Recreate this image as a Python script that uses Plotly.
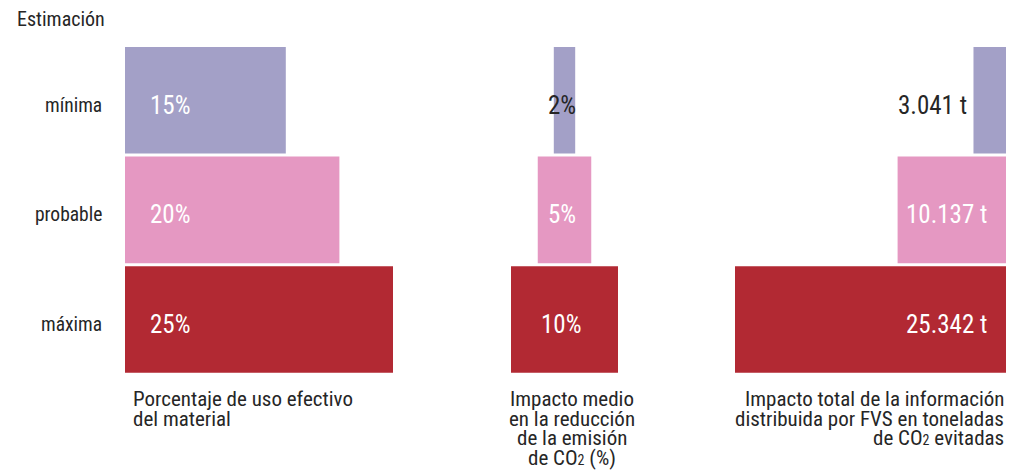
import plotly.graph_objects as go

# ---------------- data ----------------
categories = ["mínima", "probable", "máxima"]
uso_efectivo = [15, 20, 25]               # %
impacto_medio = [2, 5, 10]                # %
impacto_total = [3041, 10137, 25342]      # toneladas CO2
colors = ["#A3A0C7", "#E598C2", "#B22933"]

uso_labels = [f"{v}%" for v in uso_efectivo]
medio_labels = [f"{v}%" for v in impacto_medio]
total_labels = [f"{v:,} t".replace(",", ".") for v in impacto_total]

# page body has an 8px default margin: figure is offset by that
OFF = 8
W, H = 1026 - OFF, 472 - OFF
FONT = "Liberation Sans Narrow, Roboto Condensed, DejaVu Sans Condensed, Arial Narrow, sans-serif"
DARK = "#262626"

def px(x):
    return (x - OFF) / W

def py(y):
    return 1 - (y - OFF) / H

fig = go.Figure()

# panel 1: left aligned
fig.add_trace(go.Bar(y=categories, x=uso_efectivo, orientation="h",
                     marker=dict(color=colors, line=dict(width=0)),
                     xaxis="x", yaxis="y", hoverinfo="skip"))
# panel 2: centered bars
fig.add_trace(go.Bar(y=categories, x=impacto_medio, base=[-v / 2 for v in impacto_medio],
                     orientation="h", marker=dict(color=colors, line=dict(width=0)),
                     xaxis="x2", yaxis="y2", hoverinfo="skip"))
# panel 3: right aligned (reversed axis)
fig.add_trace(go.Bar(y=categories, x=impacto_total, orientation="h",
                     marker=dict(color=colors, line=dict(width=0)),
                     xaxis="x3", yaxis="y3", hoverinfo="skip"))

ydom = [py(374.2), py(45.5)]
yax = dict(domain=ydom, visible=False, autorange=False, range=[2.5, -0.5],
           type="category", categoryorder="array", categoryarray=categories)

fig.update_layout(
    width=W, height=H,
    margin=dict(l=0, r=0, t=0, b=0),
    paper_bgcolor="white", plot_bgcolor="white",
    showlegend=False, bargap=0.0274,
    font=dict(family=FONT, color=DARK),
    xaxis=dict(domain=[px(125), px(393)], range=[0, 25], visible=False, fixedrange=True),
    xaxis2=dict(domain=[px(511), px(618)], range=[-5, 5], visible=False, fixedrange=True),
    xaxis3=dict(domain=[px(735), px(1006)], range=[max(impacto_total), 0], visible=False, fixedrange=True),
    yaxis=dict(anchor="x", **yax),
    yaxis2=dict(anchor="x2", **yax),
    yaxis3=dict(anchor="x3", **yax),
)

ann = []
LBL = 25
YS = -5
for i, cat in enumerate(categories):
    # row labels
    ann.append(dict(x=px(104), xref="paper", y=cat, yref="y", text=cat, showarrow=False,
                    xanchor="right", yanchor="middle", yshift=YS,
                    font=dict(size=19.5, color=DARK, family=FONT)))
    # panel 1
    ann.append(dict(x=0, xref="x", y=cat, yref="y", text=uso_labels[i], showarrow=False,
                    xanchor="left", yanchor="middle", xshift=23, yshift=YS,
                    font=dict(size=LBL, color="white", family=FONT)))
    # panel 2
    c2 = DARK if i == 0 else "white"
    ann.append(dict(x=0, xref="x2", y=cat, yref="y2", text=medio_labels[i], showarrow=False,
                    xanchor="center", yanchor="middle", xshift=-3, yshift=YS,
                    font=dict(size=LBL, color=c2, family=FONT)))
    # panel 3
    if i == 0:
        ann.append(dict(x=impacto_total[i], xref="x3", y=cat, yref="y3", text=total_labels[i],
                        showarrow=False, xanchor="right", yanchor="middle", xshift=-4, yshift=YS,
                        font=dict(size=LBL, color=DARK, family=FONT)))
    else:
        ann.append(dict(x=0, xref="x3", y=cat, yref="y3", text=total_labels[i],
                        showarrow=False, xanchor="right", yanchor="middle", xshift=-17, yshift=YS,
                        font=dict(size=LBL, color="white", family=FONT)))

# header
ann.append(dict(x=px(15), xref="paper", y=py(19.5), yref="paper", text="Estimación",
                showarrow=False, xanchor="left", yanchor="middle",
                font=dict(size=20, color=DARK, family=FONT)))

CO2 = "CO<span style='font-size:14px'>2</span>"
CAP = 21
cap1 = ["Porcentaje de uso efectivo", "del material"]
cap2 = ["Impacto medio", "en la reducción", "de la emisión", f"de {CO2} (%)"]
cap3 = ["Impacto total de la información", "distribuida por FVS en toneladas", f"de {CO2} evitadas"]

def add_caption(lines, x, anchor):
    for j, t in enumerate(lines):
        ann.append(dict(x=px(x), xref="paper", y=py(399 + j * 19.6), yref="paper", text=t,
                        showarrow=False, xanchor=anchor, yanchor="middle",
                        font=dict(size=CAP, color=DARK, family=FONT)))

add_caption(cap1, 131, "left")
add_caption(cap2, 572, "center")
add_caption(cap3, 1006, "right")

fig.update_layout(annotations=ann)
fig.write_html("out.html")
